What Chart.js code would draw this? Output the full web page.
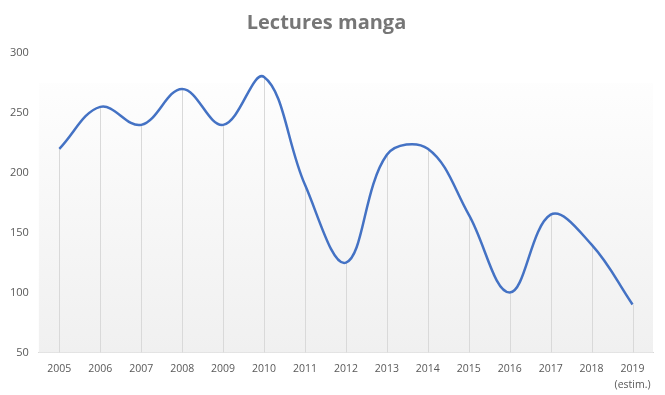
<!DOCTYPE html>
<html>
<head>
<meta charset="utf-8">
<script src="https://cdn.jsdelivr.net/npm/chart.js@4/dist/chart.umd.min.js"></script>
<style>
  html, body { margin: 0; padding: 0; background: #fff; }
  #wrap { width: 665px; height: 395px; }
</style>
</head>
<body>
<div id="wrap"><canvas id="mangaChart"></canvas></div>
<script>
const years = ['2005', '2006', '2007', '2008', '2009', '2010', '2011', '2012', '2013', '2014', '2015', '2016', '2017', '2018', ['2019', '(estim.)']];
const lectures = [220, 255, 240, 270, 240, 280, 190, 125, 215, 220, 165, 100, 165, 140, 90];
const yTicks = [50, 100, 150, 200, 250, 300];

// fond dégradé + traits verticaux sous chaque point
const dropLines = {
  id: 'dropLines',
  beforeDatasetsDraw(chart) {
    const { ctx, chartArea } = chart;
    const grad = ctx.createLinearGradient(0, chartArea.top, 0, chartArea.bottom);
    grad.addColorStop(0, '#ffffff');
    grad.addColorStop(1, '#f0f0f0');
    ctx.save();
    ctx.fillStyle = grad;
    ctx.fillRect(chartArea.left, chartArea.top + 30, chartArea.right - chartArea.left, chartArea.bottom - chartArea.top - 30);
    ctx.strokeStyle = '#d9d9d9';
    ctx.lineWidth = 1;
    chart.getDatasetMeta(0).data.forEach(pt => {
      const x = Math.round(pt.x) + 0.5;
      ctx.beginPath();
      ctx.moveTo(x, pt.y);
      ctx.lineTo(x, chartArea.bottom);
      ctx.stroke();
    });
    ctx.restore();
  }
};

new Chart('mangaChart', {
  type: 'line',
  data: {
    labels: years,
    datasets: [{
      data: lectures,
      borderColor: '#4472c4',
      borderWidth: 2.5,
      pointRadius: 0,
      tension: 0.38,
      fill: false
    }]
  },
  options: {
    responsive: true,
    maintainAspectRatio: false,
    animation: false,
    layout: { padding: { left: 0, right: 12, top: 9, bottom: -6 } },
    plugins: {
      legend: { display: false },
      tooltip: { enabled: false },
      title: {
        display: true,
        text: 'Lectures manga',
        color: '#767676',
        font: { family: 'Open Sans', size: 20, weight: 'bold' },
        padding: { top: 2, bottom: 18 }
      }
    },
    scales: {
      x: {
        offset: true,
        grid: { display: false, drawTicks: false },
        border: { color: '#d9d9d9' },
        ticks: {
          color: '#595959',
          font: { family: 'Open Sans', size: 10.5, lineHeight: 1.55 },
          maxRotation: 0,
          autoSkip: false,
          padding: 8
        }
      },
      y: {
        min: 50,
        max: 300,
        afterBuildTicks(axis) { axis.ticks = yTicks.map(v => ({ value: v })); },
        grid: { display: false, drawTicks: false },
        border: { display: false },
        ticks: {
          color: '#595959',
          font: { family: 'Open Sans', size: 11 },
          padding: 10
        }
      }
    }
  },
  plugins: [dropLines]
});
</script>
</body>
</html>
